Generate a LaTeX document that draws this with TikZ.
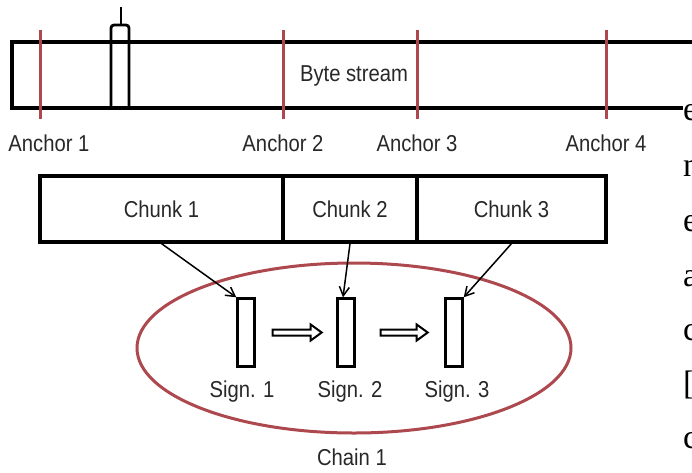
\documentclass[tikz,border=0pt]{standalone}
\usepackage{fontspec}
\setmainfont{Liberation Sans}[FakeStretch=0.88]
\newfontfamily\pageserif{Liberation Serif}
\usetikzlibrary{arrows.meta,calc}
\definecolor{anchorred}{RGB}{172,72,78}
\definecolor{inkgray}{RGB}{40,40,40}
\begin{document}
\begin{tikzpicture}[x=1pt,y=-1pt,
  lbl/.style={font=\fontsize{23}{27}\selectfont, text=inkgray, inner sep=0pt},
  streamline/.style={line width=3.2pt},
  anchorline/.style={draw=anchorred, line width=3pt},
  chunkbox/.style={draw, line width=3.2pt, minimum height=66pt, inner sep=0pt, font=\fontsize{23}{27}\selectfont, text=inkgray},
  signbox/.style={draw, line width=2.4pt, minimum width=17pt, minimum height=68pt, inner sep=0pt},
  feed/.style={-{Straight Barb[length=9pt,width=10pt,line width=1.5pt]}, line width=1.5pt},
  hollowarrow/.style={draw, line width=2pt, line join=miter, fill=white},
  pagetext/.style={font=\pageserif\fontsize{34}{40}\selectfont, inner sep=0pt, anchor=base west}
]
\useasboundingbox (0,0) rectangle (692,472);
\clip (0,0) rectangle (692,472);
\fill[white] (0,0) rectangle (692,472);

% byte stream
\draw[streamline] (692,42) -- (12,42) -- (12,108) -- (683,108);
\node[lbl] (bs) at (354,76) {Byte stream};
% window
\draw[line width=2.8pt, rounded corners=3pt] (111,108) -- (111,25) -- (129,25) -- (129,108);
\draw[line width=2.8pt] (121,7) -- (121,25);

% anchors
\foreach \i/\x in {1/40,2/283,3/417,4/606}{
  \coordinate (at\i) at (\x,30);
  \coordinate (ab\i) at (\x,119);
  \draw[anchorline] (at\i) -- (ab\i);
}
\node[lbl] (a1) at (49,143) {Anchor 1};
\node[lbl] (a2) at (283,143) {Anchor 2};
\node[lbl] (a3) at (417,143) {Anchor 3};
\node[lbl] (a4) at (606,143) {Anchor 4};

% chunks
\node[chunkbox, minimum width=243pt] (c1) at (161.5,209) {Chunk 1};
\node[chunkbox, minimum width=134pt] (c2) at (350,209) {Chunk 2};
\node[chunkbox, minimum width=189pt] (c3) at (511.5,209) {Chunk 3};

% chain ellipse
\draw[anchorred, line width=3pt] (354,348) ellipse [x radius=217, y radius=85];

% signatures
\node[signbox] (s1) at (246,332.5) {};
\node[signbox] (s2) at (346,332.5) {};
\node[signbox] (s3) at (454,332.5) {};
\node[lbl] (l1) at (242,392) {Sign. 1};
\node[lbl] (l2) at (350,392) {Sign. 2};
\node[lbl] (l3) at (457,392) {Sign. 3};
\node[lbl] (ch) at (352,457) {Chain 1};

% connectors
\draw[feed] (c1.south) -- (s1.north west);
\draw[feed] (c2.south) -- ($(s2.north)+(-3,0)$);
\draw[feed] (c3.south) -- (s3.north east);
\draw[hollowarrow] ($(s1.east)+(17,3)$) -- ++(38,0) -- ++(0,5) -- ++(11,-8) -- ++(-11,-8) -- ++(0,5) -- ++(-38,0) -- cycle;
\draw[hollowarrow] ($(s2.east)+(25,3)$) -- ++(36,0) -- ++(0,5) -- ++(11,-8) -- ++(-11,-8) -- ++(0,5) -- ++(-36,0) -- cycle;

% clipped page text at right edge
\node[pagetext] (p1) at (683,120) {e};
\node[pagetext] (p2) at (683,176) {n};
\node[pagetext] (p3) at (683,231) {e};
\node[pagetext] (p4) at (683,286) {a};
\node[pagetext] (p5) at (683,340) {c};
\node[pagetext] (p6) at (683,394) {[};
\node[pagetext] (p7) at (683,448) {c};
\end{tikzpicture}
\end{document}
